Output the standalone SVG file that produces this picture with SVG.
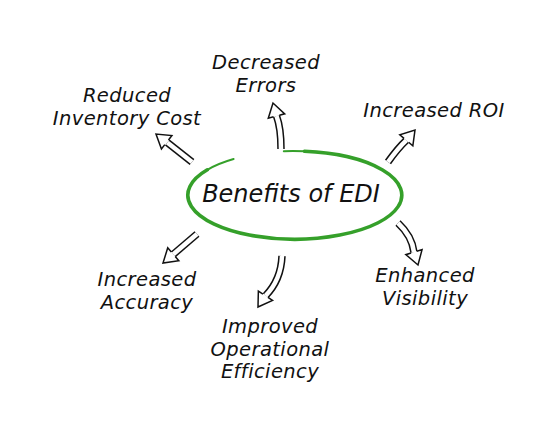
<svg xmlns="http://www.w3.org/2000/svg" width="560" height="438" viewBox="0 0 560 438">
<style>
.t{font-family:"DejaVu Sans","Liberation Sans",sans-serif;font-style:italic;font-size:19.5px;letter-spacing:0.4px;fill:#111;text-anchor:middle}
.c{font-size:24px;letter-spacing:0}
.so{fill:none;stroke:#111;stroke-width:7.5;stroke-linecap:butt}
.si{fill:none;stroke:#fff;stroke-width:4.5;stroke-linecap:butt}
.hd{fill:#fff;stroke:#111;stroke-width:1.5;stroke-linejoin:miter}
.el{fill:none;stroke:#35a02a;stroke-linecap:round}
</style>
<defs>
<path id="head" d="M-13.5,-3 L-13.5,-8.5 L0,0 L-13.5,8.5 L-13.5,3"/>
</defs>
<rect width="560" height="438" fill="#fff"/>
<g id="center">
<path class="el" stroke-width="3.6" d="M 304.4,151.3 A 107 44 0 1 1 207.3,169.8"/>
<path class="el" stroke-width="2" d="M 283.8,151.2 A 107 44 0 0 1 304.4,151.3"/>
<path class="el" stroke-width="2" d="M 207.3,169.8 A 107 44 0 0 1 233.6,159"/>
<text class="t c" x="291" y="202">Benefits of EDI</text>
</g>
<g id="connectors">
<g id="a1">
<path class="so" d="M192,162 L167.3,142.5"/><path class="si" d="M192,162 L167.3,142.5"/>
<use href="#head" class="hd" transform="translate(156,134) rotate(217.9)"/>
</g>
<g id="a2">
<path class="so" d="M281,149 Q281,128 276.5,116"/><path class="si" d="M281,149 Q281,128 276.5,116"/>
<use href="#head" class="hd" transform="translate(273,103) rotate(-105)"/>
</g>
<g id="a3">
<path class="so" d="M388,162 Q398,148 406.3,140.3"/><path class="si" d="M388,162 Q398,148 406.3,140.3"/>
<use href="#head" class="hd" transform="translate(415,130) rotate(-50)"/>
</g>
<g id="a4">
<path class="so" d="M197,234 L173.3,254.3"/><path class="si" d="M197,234 L173.3,254.3"/>
<use href="#head" class="hd" transform="translate(163,263) rotate(139.5)"/>
</g>
<g id="a5">
<path class="so" d="M282,256 Q281,280 265.5,295.8"/><path class="si" d="M282,256 Q281,280 265.5,295.8"/>
<use href="#head" class="hd" transform="translate(258,307) rotate(123.5)"/>
</g>
<g id="a6">
<path class="so" d="M398,223 Q412,236 414,252.2"/><path class="si" d="M398,223 Q412,236 414,252.2"/>
<use href="#head" class="hd" transform="translate(418,265) rotate(72.5)"/>
</g>
</g>
<g id="n-errors"><text class="t" x="266" y="69">Decreased</text><text class="t" x="266" y="91.5">Errors</text></g>
<g id="n-inventory"><text class="t" x="127" y="102">Reduced</text><text class="t" x="127" y="124.5">Inventory Cost</text></g>
<g id="n-roi"><text class="t" x="434" y="117">Increased ROI</text></g>
<g id="n-accuracy"><text class="t" x="147" y="286">Increased</text><text class="t" x="147" y="308.5">Accuracy</text></g>
<g id="n-efficiency"><text class="t" x="270" y="333">Improved</text><text class="t" x="270" y="355.5">Operational</text><text class="t" x="270" y="378">Efficiency</text></g>
<g id="n-visibility"><text class="t" x="425" y="282">Enhanced</text><text class="t" x="425" y="304.5">Visibility</text></g>
</svg>
